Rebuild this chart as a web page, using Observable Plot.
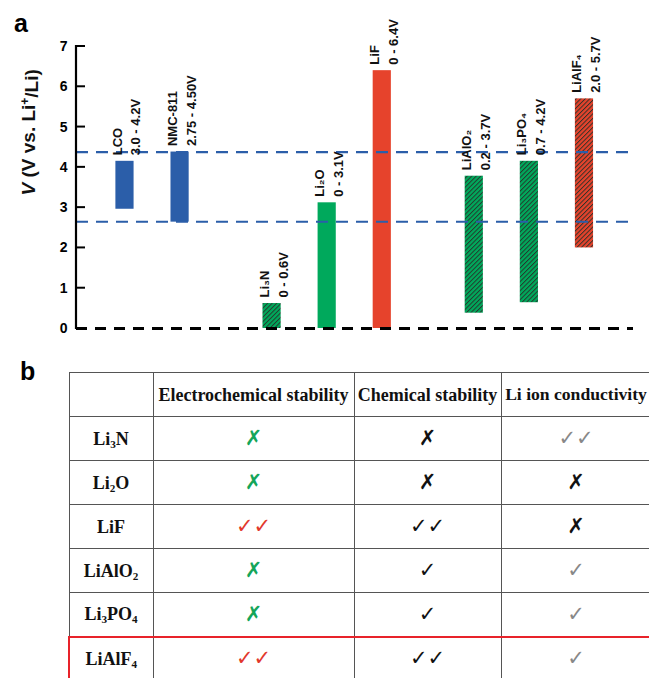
<!DOCTYPE html>
<html><head><meta charset="utf-8">
<script src="https://cdn.jsdelivr.net/npm/d3@7"></script>
<script src="https://cdn.jsdelivr.net/npm/@observablehq/plot@0.6"></script>
<style>
html,body{margin:0;padding:0;background:#fff;width:649px;height:678px;overflow:hidden;}
#wrap{position:relative;width:649px;height:678px;overflow:hidden;}
.plabel{position:absolute;font-family:"Liberation Sans",Arial,sans-serif;font-weight:bold;font-size:25px;line-height:1;}
#chart{position:absolute;left:0;top:0;}
table{position:absolute;left:68px;top:372px;width:582px;border-collapse:collapse;table-layout:fixed;font-family:"Liberation Serif","Times New Roman",serif;font-weight:bold;font-size:18px;color:#111;}
tr{height:44px;}
td,th{border:1.5px solid #555;padding:0;text-align:center;vertical-align:middle;white-space:nowrap;line-height:1;}
th{font-weight:bold;}
th.last{font-size:17.6px;}
td.name sub{font-size:0.62em;vertical-align:-0.25em;line-height:0;}
td.sym{font-family:"DejaVu Sans",sans-serif;font-weight:normal;font-size:21px;}
tr.hl td{border-top:2px solid #e8232a;border-bottom:2px solid #e8232a;}
tr.hl td:first-child{border-left:2px solid #e8232a;}
</style>
</head><body>
<div id="wrap">
<div class="plabel" style="left:14px;top:11px;">a</div>
<div id="chart"></div>
<div class="plabel" style="left:20px;top:359px;">b</div>
<div id="tbl"></div>
</div>
<script>
// ---- panel a data ----
const materials = ["LCO","NMC-811","Li₃N","Li₂O","LiF","LiAlO₂","Li₃PO₄","LiAlF₄"];
const rangeLabels = ["3.0 - 4.2V","2.75 - 4.50V","0 - 0.6V","0 - 3.1V","0 - 6.4V","0.2 - 3.7V","0.7 - 4.2V","2.0 - 5.7V"];
const vLow  = [2.96, 2.64, 0,    0,    0,   0.38, 0.64, 2.0];
const vHigh = [4.15, 4.38, 0.62, 3.12, 6.4, 3.78, 4.15, 5.7];
const groups = [0, 0, 1, 1, 1, 2, 2, 2];
const kinds = ["cathode","cathode","oxide","oxide","fluoride","oxide","oxide","fluoride"];
const hatched = [false, false, true, false, false, true, true, true];
const cathodeWindow = [2.65, 4.38];
const yTicks = [0, 1, 2, 3, 4, 5, 6, 7];

// ---- panel b data ----
const rowNames = ["Li<sub>3</sub>N","Li<sub>2</sub>O","LiF","LiAlO<sub>2</sub>","Li<sub>3</sub>PO<sub>4</sub>","LiAlF<sub>4</sub>"];
const columns = ["Electrochemical stability","Chemical stability","Li ion conductivity"];
const electroStab = ["✗","✗","✓✓","✗","✗","✓✓"];
const chemStab = ["✗","✗","✓✓","✓","✓","✓✓"];
const ionCond = ["✓✓","✗","✗","✓","✓","✓"];

// ---- styles ----
const blue = "#2b5ea9", green = "#00a95c", red = "#e6432c";
const solidColor = {cathode: blue, oxide: green, fluoride: red};
const hatchId = {oxide: "hatch-green", fluoride: "hatch-red"};
const groupGap = 0.67, halfBar = 0.165;

const data = materials.map((m, i) => ({
  name: m, range: rangeLabels[i], low: vLow[i], high: vHigh[i],
  pos: i + groups[i] * groupGap,
  fill: hatched[i] ? `url(#${hatchId[kinds[i]]})` : solidColor[kinds[i]]
}));

function hatchDefs() {
  const defs = d3.create("svg:defs");
  for (const [id, color] of [["hatch-green", green], ["hatch-red", red]]) {
    const p = defs.append("pattern").attr("id", id).attr("patternUnits", "userSpaceOnUse")
      .attr("width", 3.2).attr("height", 8).attr("patternTransform", "rotate(45)");
    p.append("rect").attr("width", 3.2).attr("height", 8).attr("fill", color);
    p.append("line").attr("x1", 0.5).attr("x2", 0.5).attr("y1", 0).attr("y2", 8)
      .attr("stroke", "#263028").attr("stroke-width", 0.9);
  }
  return defs.node();
}

function axisLine(index, scales, values, dims) {
  const g = d3.create("svg:g");
  const x0 = dims.marginLeft;
  const top = scales.y(d3.max(yTicks)), bottom = scales.y(d3.min(yTicks));
  g.append("line").attr("x1", x0).attr("x2", x0).attr("y1", top - 1).attr("y2", bottom + 1)
    .attr("stroke", "#000").attr("stroke-width", 2.2);
  g.selectAll(null).data(yTicks).join("line")
    .attr("x1", x0).attr("x2", x0 + 9)
    .attr("y1", d => scales.y(d)).attr("y2", d => scales.y(d))
    .attr("stroke", "#000").attr("stroke-width", 2);
  return g.node();
}

const yLabel = "V (V vs. Li+/Li)";

const chart = Plot.plot({
  width: 649, height: 345,
  marginLeft: 76, marginRight: 16, marginTop: 46, marginBottom: 17,
  style: {fontFamily: "'Liberation Sans', Arial, sans-serif", background: "transparent", overflow: "visible"},
  x: {domain: [-0.88, 9.23], axis: null},
  y: {domain: [0, 7]},
  color: {type: "identity"},
  marks: [
    hatchDefs,
    Plot.rect(data, {x1: d => d.pos - halfBar, x2: d => d.pos + halfBar, y1: "low", y2: "high", fill: "fill"}),
    Plot.ruleY(cathodeWindow, {stroke: blue, strokeWidth: 2.2, strokeDasharray: "12,8"}),
    Plot.ruleY([0], {stroke: "#000", strokeWidth: 3, strokeDasharray: "11,8"}),
    axisLine,
    Plot.axisY({ticks: yTicks, tickSize: 0, tickPadding: 9, fontSize: 14, fontWeight: "bold", label: null, tickFormat: d => String(d), fill: "#000"}),
    Plot.text(data, {x: "pos", y: "high", text: d => d.name + "\n" + d.range, rotate: -90, textAnchor: "start",
      lineAnchor: "middle", lineHeight: 1.45, dy: -6, fontSize: 13, fontWeight: "bold", fill: "#111"}),
    Plot.text([yLabel], {frameAnchor: "left", dx: -48, dy: 8, rotate: -90, fontSize: 19, fontWeight: "bold", fill: "#111"})
  ]
});
document.getElementById("chart").appendChild(chart);

// italic V and superscript + in the axis title
d3.select(chart).selectAll("text").filter(function() { return this.textContent === yLabel; })
  .each(function() {
    const t = d3.select(this);
    t.text(null);
    t.append("tspan").attr("font-style", "italic").text("V");
    t.append("tspan").text(" (V vs. Li");
    t.append("tspan").attr("dy", "-0.45em").attr("font-size", "12px").text("+");
    t.append("tspan").attr("dy", "0.45em").text("/Li)");
  });

// ---- table ----
const symColor = {
  electro: s => s === "✗" ? "#14a55a" : "#e2382c",
  chem: s => "#111",
  ion: s => s === "✗" ? "#111" : "#888"
};
let html = '<table><colgroup><col style="width:84px"><col style="width:201px"><col style="width:147px"><col style="width:150px"></colgroup>';
html += '<tr><th></th>' + columns.map((c, j) => `<th${j === columns.length - 1 ? ' class="last"' : ''}>${c}</th>`).join("") + '</tr>';
rowNames.forEach((r, i) => {
  html += `<tr${i === rowNames.length - 1 ? ' class="hl"' : ''}><td class="name">${r}</td>`;
  html += `<td class="sym" style="color:${symColor.electro(electroStab[i])}">${electroStab[i]}</td>`;
  html += `<td class="sym" style="color:${symColor.chem(chemStab[i])}">${chemStab[i]}</td>`;
  html += `<td class="sym" style="color:${symColor.ion(ionCond[i])}">${ionCond[i]}</td></tr>`;
});
html += '</table>';
document.getElementById("tbl").innerHTML = html;
</script>
</body></html>
